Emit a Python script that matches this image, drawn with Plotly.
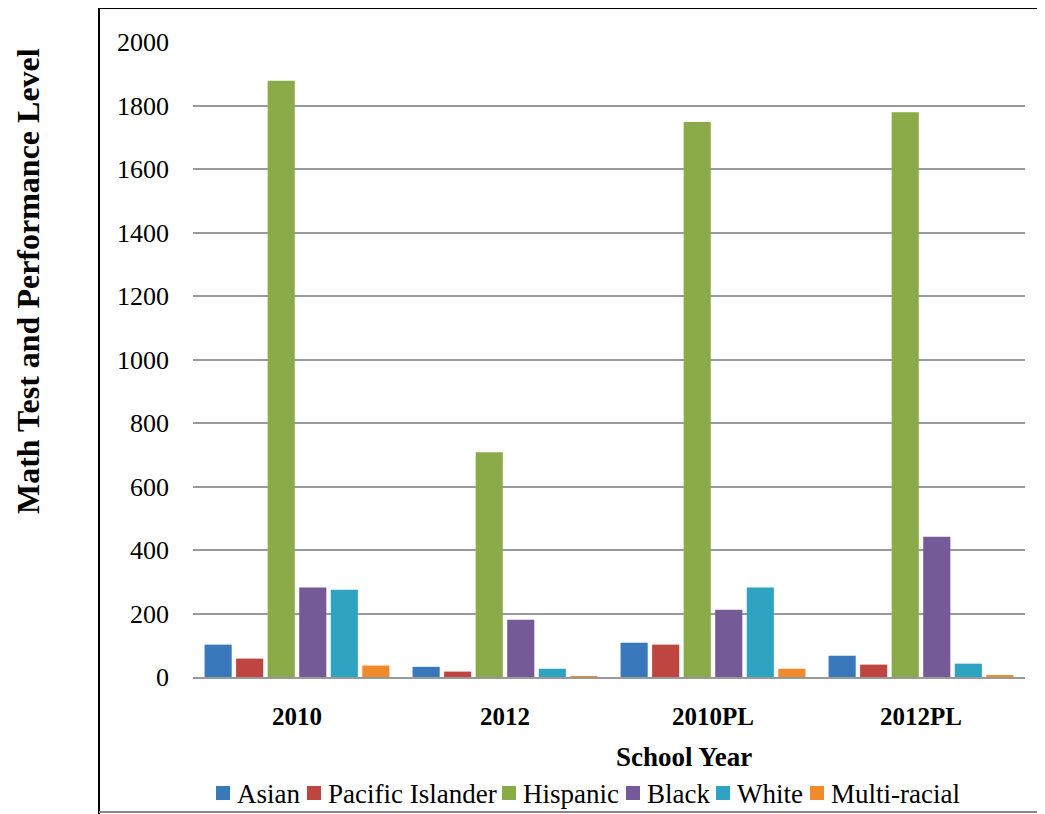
import plotly.graph_objects as go

categories = ["2010", "2012", "2010PL", "2012PL"]
asian = [102, 32, 108, 67]
pacific_islander = [58, 17, 102, 39]
hispanic = [1878, 708, 1748, 1779]
black = [282, 180, 212, 442]
white = [275, 26, 282, 42]
multi_racial = [36, 3, 26, 5]

series_names = ["Asian", "Pacific Islander", "Hispanic", "Black", "White", "Multi-racial"]
series_values = [asian, pacific_islander, hispanic, black, white, multi_racial]
series_colors = ["#3A78BC", "#BE4540", "#8BAA48", "#755A98", "#2FA4C2", "#F08A2A"]

fig = go.Figure()
for name, vals, col in zip(series_names, series_values, series_colors):
    fig.add_trace(go.Bar(x=categories, y=vals, name=name, marker_color=col,
                         marker_line_width=0))

# Page has an 8px body margin; target plot area in screen px: x 193..1025, y 42..677
OFF = 8
W, H = 1045, 814
PX0, PX1, PY0, PY1 = 193, 1025, 42, 677
L, T = PX0 - OFF, PY0 - OFF
R = W + OFF - PX1
B = H + OFF - PY1
pw, ph = PX1 - PX0, PY1 - PY0


def fx(xs):
    return (xs - PX0) / pw


def fy(ys):
    return (PY1 - ys) / ph


SERIF = "Liberation Serif, Times New Roman, serif"

fig.update_layout(
    width=W, height=H,
    margin=dict(l=L, r=R, t=T, b=B),
    paper_bgcolor="white", plot_bgcolor="white",
    barmode="group", bargap=0.09, bargroupgap=0.14,
    font=dict(family=SERIF, color="black"),
    showlegend=False,
    xaxis=dict(showgrid=False, showline=True, linecolor="#999999", linewidth=2,
               ticks="", tickfont=dict(size=25, family=SERIF, weight="bold"),
               ticklabelstandoff=16),
    yaxis=dict(range=[0, 2000], dtick=200, showgrid=True, gridcolor="#9a9a9a",
               gridwidth=2, showline=False, zeroline=False, ticks="",
               tickfont=dict(size=26), ticklabelstandoff=23),
)

fig.add_annotation(text="<b>School Year</b>", xref="paper", yref="paper",
                   x=fx(684), y=fy(757), showarrow=False,
                   font=dict(size=27), xanchor="center", yanchor="middle")
fig.add_annotation(text="<b>Math Test and Performance Level</b>", xref="paper", yref="paper",
                   x=fx(28), y=fy(281), showarrow=False,
                   textangle=-90, font=dict(size=32), xanchor="center", yanchor="middle")

# manual legend (squares + labels)
sq_x = [216, 307, 502, 626, 716, 810]
for name, col, x0 in zip(series_names, series_colors, sq_x):
    fig.add_shape(type="rect", xref="paper", yref="paper",
                  x0=fx(x0), x1=fx(x0 + 14), y0=fy(786), y1=fy(800),
                  fillcolor=col, line=dict(width=0))
    fig.add_annotation(text=name, xref="paper", yref="paper",
                       x=fx(x0 + 19), y=fy(794), showarrow=False,
                       xanchor="left", yanchor="middle", font=dict(size=27))

# chart-area border (left, top, bottom)
line_k = dict(color="black", width=2)
fig.add_shape(type="line", xref="paper", yref="paper",
              x0=fx(99), x1=fx(99), y0=fy(8), y1=fy(816), line=line_k)
fig.add_shape(type="line", xref="paper", yref="paper",
              x0=fx(99), x1=fx(1046), y0=fy(8), y1=fy(8), line=line_k)
fig.add_shape(type="line", xref="paper", yref="paper",
              x0=fx(99), x1=fx(1046), y0=fy(812), y1=fy(812),
              line=dict(color="#888888", width=2))

fig.write_html("out.html")
